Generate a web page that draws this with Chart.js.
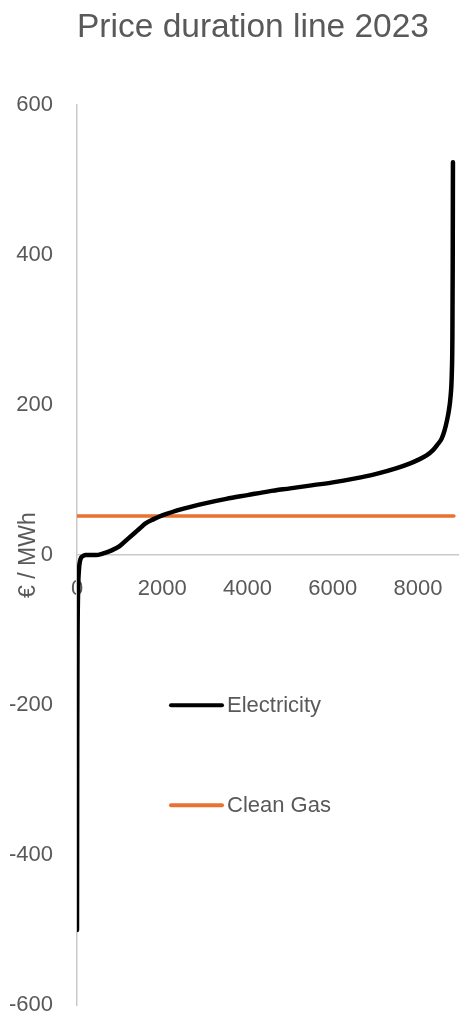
<!DOCTYPE html>
<html>
<head>
<meta charset="utf-8">
<title>Price duration line 2023</title>
<script src="https://cdn.jsdelivr.net/npm/chart.js@4.4.1/dist/chart.umd.min.js"></script>
<style>
  html, body { margin: 0; padding: 0; background: #ffffff; }
  canvas { display: block; }
</style>
</head>
<body>
<canvas id="durationChart" width="459" height="1014"></canvas>
<script>
/* --------------- Data -------------------------------------------- */

const hours = [0, 5, 12, 25, 45, 70, 100, 150, 200, 300, 450, 600, 800, 1000, 1200, 1400, 1500, 1600, 1800, 2000, 2500, 3000, 3500, 4000, 4500, 5000, 5500, 6000, 6500, 7000, 7500, 7800, 8000, 8200, 8350, 8450, 8550, 8620, 8680, 8720, 8760, 8790, 8805, 8812, 8818];
const electricityPrices = [-500, -250, -120, -50, -20, -8, -3, -1, 0, 0, 0, 2, 6, 12, 22, 32, 37, 42, 48, 53, 62, 69, 75, 80, 85, 89, 93, 97, 102, 108, 116, 122, 127, 133, 140, 147, 155, 166, 180, 192, 210, 240, 290, 380, 524];

const gasHours = [0, 8840];
const gasPrices = [52, 52];

const seriesNames = ["Electricity", "Clean Gas"];
const seriesColors = ["#000000", "#E97132"];

const xTickValues = [0, 2000, 4000, 6000, 8000];
const yTicks = { min: -600, max: 600, step: 200 };
const xRange = { min: 0, max: 8960 };

/* --------------- Fonts / Colours --------------------- */

const textColor = "#595959";
const axisColor = "#c9c9c9";
Chart.defaults.font.family = "'Liberation Sans', Arial, sans-serif";
Chart.defaults.color = textColor;

/* --------------- Legend inside plot (Excel style) --------------------- */

const insideLegend = {
  id: "insideLegend",
  afterDatasetsDraw(chart) {
    const { ctx, chartArea } = chart;
    const x0 = chartArea.left + 94;
    ctx.save();
    chart.data.datasets.forEach((ds, i) => {
      const y = chartArea.top + 600 + i * 100;
      ctx.strokeStyle = ds.borderColor;
      ctx.lineWidth = 4;
      ctx.lineCap = "round";
      ctx.beginPath();
      ctx.moveTo(x0, y);
      ctx.lineTo(x0 + 51, y);
      ctx.stroke();
      ctx.fillStyle = textColor;
      ctx.font = "22px 'Liberation Sans', Arial, sans-serif";
      ctx.textAlign = "left";
      ctx.textBaseline = "middle";
      ctx.fillText(ds.label, x0 + 56, y + 1);
    });
    ctx.restore();
  }
};

/* --------------- Chart --------------------- */

const ctx = document.getElementById("durationChart");

const durationChart = new Chart(ctx, {
  type: "line",
  plugins: [insideLegend],
  data: {
    datasets: [
      {
        label: seriesNames[0],
        data: hours.map((h, i) => ({ x: h, y: electricityPrices[i] })),
        borderColor: seriesColors[0],
        borderWidth: 4.5,
        borderCapStyle: "round",
        pointRadius: 0,
        cubicInterpolationMode: "monotone",
      },
      {
        label: seriesNames[1],
        data: gasHours.map((h, i) => ({ x: h, y: gasPrices[i] })),
        borderColor: seriesColors[1],
        borderWidth: 3.5,
        borderCapStyle: "round",
        pointRadius: 0,
      },
    ],
  },
  options: {
    responsive: false,
    devicePixelRatio: 1,
    animation: false,
    layout: { padding: { left: 0, right: 0, top: 0, bottom: 9 } },
    plugins: {
      legend: { display: false },
      tooltip: { enabled: false },
      title: {
        display: true,
        fullSize: false,
        align: "start",
        text: "Price duration line 2023",
        color: textColor,
        font: { size: 33.5, weight: "normal" },
        padding: { top: 8, bottom: 57 },
      },
    },
    scales: {
      x: {
        type: "linear",
        position: { y: 0 },
        min: xRange.min,
        max: xRange.max,
        grid: { display: false },
        border: { display: true, color: axisColor, width: 1.5 },
        afterBuildTicks(scale) {
          scale.ticks = xTickValues.map(v => ({ value: v }));
        },
        ticks: {
          padding: 13,
          maxRotation: 0,
          autoSkip: false,
          color: textColor,
          font: { size: 22 },
          callback: (value) => String(value),
        },
      },
      y: {
        type: "linear",
        position: "left",
        min: yTicks.min,
        max: yTicks.max,
        grid: { display: false },
        border: { display: true, color: axisColor, width: 1.5 },
        ticks: {
          stepSize: yTicks.step,
          padding: 16,
          color: textColor,
          font: { size: 22 },
        },
        title: {
          display: true,
          text: "€ / MWh",
          color: textColor,
          font: { size: 23 },
          padding: { top: 15, bottom: 0 },
        },
        afterFit(scale) {
          scale.width = 77;
          scale.paddingTop = 0;
          scale.paddingBottom = 0;
        },
      },
    },
  },
});
</script>
</body>
</html>
